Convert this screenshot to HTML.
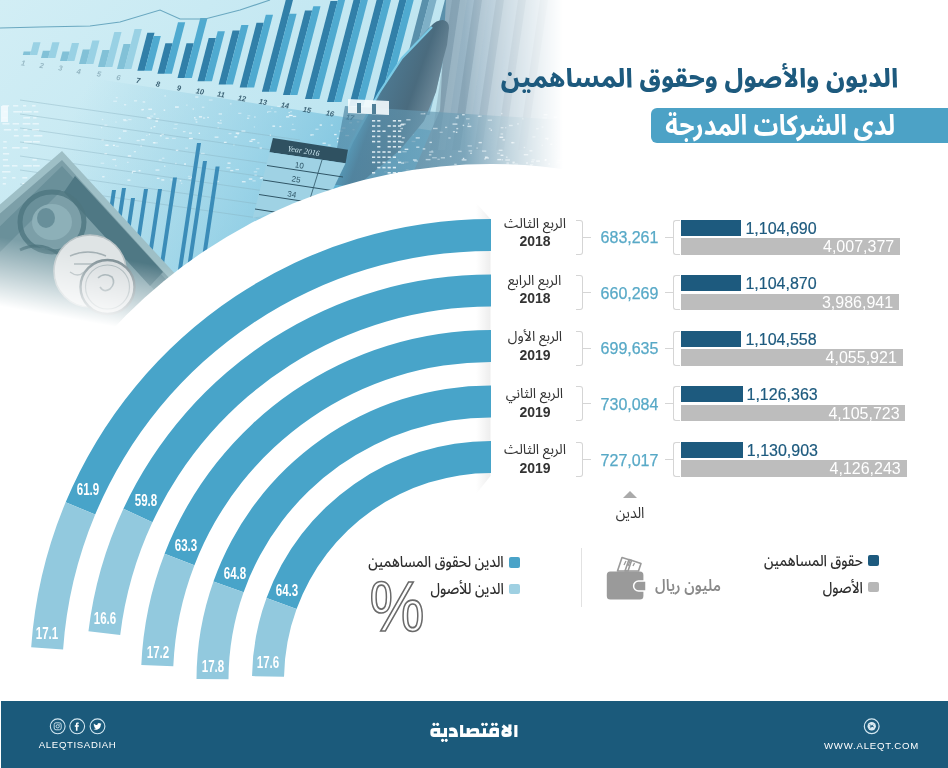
<!DOCTYPE html>
<html lang="ar"><head><meta charset="utf-8"><title>الديون والأصول وحقوق المساهمين</title>
<style>
*{box-sizing:border-box}
html,body{margin:0;padding:0}
body{width:948px;height:768px;overflow:hidden;background:#fff;position:relative;font-family:"Liberation Sans",sans-serif}
.ar{font-family:"Noto Sans Arabic","DejaVu Sans",sans-serif;direction:rtl;white-space:nowrap}
.a{position:absolute}
.pl{position:absolute;width:40px;height:20px;line-height:20px;text-align:center;color:#fff;font-weight:bold;font-size:16px;transform:scaleX(0.72)}
.title{right:50px;top:58.5px;font-size:26px;font-weight:800;transform-origin:100% 50%;transform:scaleX(0.976);color:#1d5a7e;line-height:40px}
.subbox{left:651px;top:108.3px;width:310px;height:34.4px;background:#4ca2c6;border-radius:6px}
.subt{right:52.5px;top:107.3px;font-size:28px;font-weight:700;transform-origin:100% 50%;transform:scaleX(0.88);color:#fff;line-height:40px}
.q{left:474.5px;width:120px;text-align:center;font-size:14px;color:#333;line-height:20px}
.yr{left:515px;width:40px;text-align:center;font-size:14px;font-weight:bold;color:#333;line-height:16px}
.brR{left:576px;width:7px;height:35px;border:1.3px solid #d5d5d5;border-left:none;border-radius:0 3px 3px 0}
.brL{left:673px;width:7px;height:35px;border:1.3px solid #d5d5d5;border-right:none;border-radius:3px 0 0 3px}
.tick{width:8px;height:1.3px;background:#d5d5d5}
.debt{left:595.5px;width:68px;text-align:center;font-size:16px;color:#58a9c7;line-height:16px;-webkit-text-stroke:0.25px #58a9c7}
.dbar{left:681px;height:16px;background:#1d5a7e}
.eqn{font-size:16px;color:#1d5a7e;line-height:16px;white-space:nowrap;margin-left:-1px;-webkit-text-stroke:0.2px #1d5a7e}
.gbar{left:681px;height:16.5px;background:#bdbdbd;text-align:right}
.gbar span{font-size:16px;color:#fff;line-height:17.5px;margin-right:5.8px;display:inline-block}
.tri{left:622.5px;top:491px;width:0;height:0;border-left:7.4px solid transparent;border-right:7.4px solid transparent;border-bottom:7.6px solid #aaa}
.dlab{left:599.5px;width:60px;text-align:center;top:503.3px;font-size:15.5px;transform:scaleX(0.9);color:#333;line-height:20px}
.sq{width:11px;height:10.5px;border-radius:2px}
.lg{font-size:15.5px;font-weight:500;color:#2e2e2e;line-height:24px;transform-origin:100% 50%;transform:scaleX(0.875)}
.vline{left:580.5px;top:548px;width:1.4px;height:59px;background:#e2e2e2}
.pct{left:360.5px;top:562px;width:72px;text-align:center;font-size:71px;line-height:90px;color:transparent;-webkit-text-stroke:1.7px #6a6a6a;transform:scaleX(0.87)}
.foot{left:1px;top:700.5px;width:947px;height:68px;background:#1b5a7b}
.logo{left:400px;width:148px;text-align:center;top:712px;font-family:"Changa","Noto Sans Arabic","DejaVu Sans",sans-serif;font-size:19px;font-weight:800;color:#fff;line-height:40px}
.fl{left:38.8px;top:739.3px;font-size:9.6px;letter-spacing:0.65px;color:#fff;line-height:12px}
.fr{left:824px;top:739.5px;font-size:9.6px;letter-spacing:0.8px;color:#fff;line-height:12px}
</style></head><body>
<svg class="a" style="left:0;top:0" width="948" height="768" viewBox="0 0 948 768">
<defs>
 <linearGradient id="bg" x1="0" y1="0" x2="1" y2="0.35">
  <stop offset="0" stop-color="#d2eef5"/><stop offset="0.4" stop-color="#c0e6f1"/><stop offset="1" stop-color="#a9d5e4"/>
 </linearGradient>
 <linearGradient id="bg2" x1="100" y1="60" x2="380" y2="200" gradientUnits="userSpaceOnUse">
  <stop offset="0" stop-color="#8fcbe0" stop-opacity="0"/><stop offset="0.55" stop-color="#86c9e2" stop-opacity="0.6"/><stop offset="1" stop-color="#6fbcdb" stop-opacity="0.95"/>
 </linearGradient>
 <linearGradient id="shad" x1="0" y1="0" x2="1" y2="0">
  <stop offset="0" stop-color="#7d9cad"/><stop offset="0.3" stop-color="#9ebacb"/><stop offset="1" stop-color="#b8d2de"/>
 </linearGradient>
 <linearGradient id="dig" x1="0" y1="0" x2="1" y2="0">
  <stop offset="0" stop-color="#4d84a1"/><stop offset="0.4" stop-color="#6f9fb6"/><stop offset="1" stop-color="#a4bfcb"/>
 </linearGradient>
 <linearGradient id="pen" x1="372" y1="88" x2="440" y2="112" gradientUnits="userSpaceOnUse">
  <stop offset="0" stop-color="#5fb2d2"/><stop offset="0.15" stop-color="#4d7890"/><stop offset="0.55" stop-color="#4a6b7e"/><stop offset="1" stop-color="#7b95a4"/>
 </linearGradient>
 <linearGradient id="fadeR" x1="0" y1="0" x2="948" y2="0" gradientUnits="userSpaceOnUse">
  <stop offset="0.49" stop-color="#fff"/><stop offset="0.538" stop-color="#808080"/><stop offset="0.594" stop-color="#000"/>
 </linearGradient>
 <linearGradient id="fadeB" x1="100" y1="255" x2="88" y2="322" gradientUnits="userSpaceOnUse">
  <stop offset="0" stop-color="#fff"/><stop offset="1" stop-color="#000"/>
 </linearGradient>
 <mask id="pmR" maskUnits="userSpaceOnUse" x="0" y="0" width="948" height="340">
  <rect x="0" y="0" width="948" height="340" fill="url(#fadeR)"/>
 </mask>
 <mask id="pmB" maskUnits="userSpaceOnUse" x="0" y="0" width="948" height="340">
  <rect x="0" y="0" width="948" height="340" fill="url(#fadeB)"/>
 </mask>
</defs>
<g mask="url(#pmR)"><g mask="url(#pmB)">
<rect x="0" y="0" width="948" height="340" fill="url(#bg)"/>
<polygon points="0,64 480,138 640,150 640,340 0,340" fill="url(#bg2)"/>
<line x1="20" y1="100" x2="300" y2="140" stroke="#86aebf" stroke-opacity="0.5" stroke-width="0.8"/>
<line x1="20" y1="114" x2="300" y2="154" stroke="#86aebf" stroke-opacity="0.5" stroke-width="0.8"/>
<line x1="20" y1="128" x2="300" y2="168" stroke="#86aebf" stroke-opacity="0.5" stroke-width="0.8"/>
<line x1="20" y1="142" x2="300" y2="182" stroke="#86aebf" stroke-opacity="0.5" stroke-width="0.8"/>
<line x1="20" y1="156" x2="300" y2="196" stroke="#86aebf" stroke-opacity="0.5" stroke-width="0.8"/>
<line x1="20" y1="170" x2="300" y2="210" stroke="#86aebf" stroke-opacity="0.5" stroke-width="0.8"/>
<line x1="20" y1="184" x2="300" y2="224" stroke="#86aebf" stroke-opacity="0.5" stroke-width="0.8"/>
<rect x="2.3" y="105.0" width="6.9" height="1.6" fill="#f2fbfd" fill-opacity="0.7"/>
<rect x="13.1" y="105.0" width="5.2" height="1.6" fill="#f2fbfd" fill-opacity="0.7"/>
<rect x="23.0" y="105.0" width="3.2" height="1.6" fill="#f2fbfd" fill-opacity="0.7"/>
<rect x="32.1" y="105.0" width="3.5" height="1.6" fill="#f2fbfd" fill-opacity="0.7"/>
<rect x="3.7" y="111.0" width="3.7" height="1.6" fill="#f2fbfd" fill-opacity="0.7"/>
<rect x="13.3" y="111.0" width="8.7" height="1.6" fill="#f2fbfd" fill-opacity="0.7"/>
<rect x="22.8" y="111.0" width="8.9" height="1.6" fill="#f2fbfd" fill-opacity="0.7"/>
<rect x="33.7" y="111.0" width="4.7" height="1.6" fill="#f2fbfd" fill-opacity="0.7"/>
<rect x="2.2" y="117.0" width="4.9" height="1.6" fill="#f2fbfd" fill-opacity="0.7"/>
<rect x="23.2" y="117.0" width="6.8" height="1.6" fill="#f2fbfd" fill-opacity="0.7"/>
<rect x="33.1" y="117.0" width="3.4" height="1.6" fill="#f2fbfd" fill-opacity="0.7"/>
<rect x="2.4" y="123.0" width="7.1" height="1.6" fill="#f2fbfd" fill-opacity="0.7"/>
<rect x="12.6" y="123.0" width="6.5" height="1.6" fill="#f2fbfd" fill-opacity="0.7"/>
<rect x="22.6" y="123.0" width="7.8" height="1.6" fill="#f2fbfd" fill-opacity="0.7"/>
<rect x="32.5" y="123.0" width="6.4" height="1.6" fill="#f2fbfd" fill-opacity="0.7"/>
<rect x="3.8" y="129.0" width="7.4" height="1.6" fill="#f2fbfd" fill-opacity="0.7"/>
<rect x="14.0" y="129.0" width="3.7" height="1.6" fill="#f2fbfd" fill-opacity="0.7"/>
<rect x="23.5" y="129.0" width="3.9" height="1.6" fill="#f2fbfd" fill-opacity="0.7"/>
<rect x="32.1" y="129.0" width="7.0" height="1.6" fill="#f2fbfd" fill-opacity="0.7"/>
<rect x="13.8" y="135.0" width="4.9" height="1.6" fill="#f2fbfd" fill-opacity="0.7"/>
<rect x="23.2" y="135.0" width="6.5" height="1.6" fill="#f2fbfd" fill-opacity="0.7"/>
<rect x="33.7" y="135.0" width="8.7" height="1.6" fill="#f2fbfd" fill-opacity="0.7"/>
<rect x="3.3" y="141.0" width="3.4" height="1.6" fill="#f2fbfd" fill-opacity="0.7"/>
<rect x="24.0" y="141.0" width="7.9" height="1.6" fill="#f2fbfd" fill-opacity="0.7"/>
<rect x="32.8" y="141.0" width="7.0" height="1.6" fill="#f2fbfd" fill-opacity="0.7"/>
<rect x="2.9" y="147.0" width="4.0" height="1.6" fill="#f2fbfd" fill-opacity="0.7"/>
<rect x="12.1" y="147.0" width="7.6" height="1.6" fill="#f2fbfd" fill-opacity="0.7"/>
<rect x="22.5" y="147.0" width="5.3" height="1.6" fill="#f2fbfd" fill-opacity="0.7"/>
<rect x="2.9" y="153.0" width="6.3" height="1.6" fill="#f2fbfd" fill-opacity="0.7"/>
<rect x="2.8" y="159.0" width="5.2" height="1.6" fill="#f2fbfd" fill-opacity="0.7"/>
<rect x="32.4" y="159.0" width="4.4" height="1.6" fill="#f2fbfd" fill-opacity="0.7"/>
<rect x="3.0" y="165.0" width="6.5" height="1.6" fill="#f2fbfd" fill-opacity="0.7"/>
<rect x="12.0" y="165.0" width="5.5" height="1.6" fill="#f2fbfd" fill-opacity="0.7"/>
<rect x="23.1" y="165.0" width="8.7" height="1.6" fill="#f2fbfd" fill-opacity="0.7"/>
<rect x="33.0" y="165.0" width="6.7" height="1.6" fill="#f2fbfd" fill-opacity="0.7"/>
<rect x="2.1" y="171.0" width="8.4" height="1.6" fill="#f2fbfd" fill-opacity="0.7"/>
<rect x="2.8" y="177.0" width="3.6" height="1.6" fill="#f2fbfd" fill-opacity="0.7"/>
<rect x="12.1" y="177.0" width="3.4" height="1.6" fill="#f2fbfd" fill-opacity="0.7"/>
<rect x="22.3" y="177.0" width="5.0" height="1.6" fill="#f2fbfd" fill-opacity="0.7"/>
<rect x="32.0" y="177.0" width="3.9" height="1.6" fill="#f2fbfd" fill-opacity="0.7"/>
<rect x="2.7" y="183.0" width="3.2" height="1.6" fill="#f2fbfd" fill-opacity="0.7"/>
<rect x="22.3" y="183.0" width="4.5" height="1.6" fill="#f2fbfd" fill-opacity="0.7"/>
<rect x="32.7" y="183.0" width="3.7" height="1.6" fill="#f2fbfd" fill-opacity="0.7"/>
<rect x="23.0" y="189.0" width="3.5" height="1.6" fill="#f2fbfd" fill-opacity="0.7"/>
<rect x="32.7" y="189.0" width="4.6" height="1.6" fill="#f2fbfd" fill-opacity="0.7"/>
<rect x="12.0" y="195.0" width="8.7" height="1.6" fill="#f2fbfd" fill-opacity="0.7"/>
<rect x="22.3" y="195.0" width="6.3" height="1.6" fill="#f2fbfd" fill-opacity="0.7"/>
<rect x="33.1" y="195.0" width="8.9" height="1.6" fill="#f2fbfd" fill-opacity="0.7"/>
<rect x="12.5" y="201.0" width="5.2" height="1.6" fill="#f2fbfd" fill-opacity="0.7"/>
<rect x="23.5" y="201.0" width="6.2" height="1.6" fill="#f2fbfd" fill-opacity="0.7"/>
<rect x="2.4" y="207.0" width="7.9" height="1.6" fill="#f2fbfd" fill-opacity="0.7"/>
<rect x="23.0" y="213.0" width="5.1" height="1.6" fill="#f2fbfd" fill-opacity="0.7"/>
<rect x="32.1" y="213.0" width="4.7" height="1.6" fill="#f2fbfd" fill-opacity="0.7"/>
<rect x="3.4" y="219.0" width="8.7" height="1.6" fill="#f2fbfd" fill-opacity="0.7"/>
<rect x="13.9" y="219.0" width="8.9" height="1.6" fill="#f2fbfd" fill-opacity="0.7"/>
<rect x="32.4" y="219.0" width="4.4" height="1.6" fill="#f2fbfd" fill-opacity="0.7"/>
<rect x="2.4" y="225.0" width="6.7" height="1.6" fill="#f2fbfd" fill-opacity="0.7"/>
<rect x="33.3" y="225.0" width="7.8" height="1.6" fill="#f2fbfd" fill-opacity="0.7"/>
<rect x="3.3" y="231.0" width="8.5" height="1.6" fill="#f2fbfd" fill-opacity="0.7"/>
<rect x="32.4" y="231.0" width="7.7" height="1.6" fill="#f2fbfd" fill-opacity="0.7"/>
<rect x="1" y="106" width="7" height="16" fill="#f4fcfe" fill-opacity="0.85"/>
<rect x="226.4" y="167.1" width="3.9" height="1.3" fill="#f4fbfe" fill-opacity="0.55"/>
<rect x="252.5" y="180.2" width="3.2" height="1.3" fill="#f4fbfe" fill-opacity="0.44"/>
<rect x="148.3" y="108.6" width="3.7" height="1.3" fill="#f4fbfe" fill-opacity="0.75"/>
<rect x="155.5" y="169.4" width="3.9" height="1.3" fill="#f4fbfe" fill-opacity="0.68"/>
<rect x="233.2" y="144.4" width="1.4" height="1.3" fill="#f4fbfe" fill-opacity="0.36"/>
<rect x="468.9" y="153.5" width="2.6" height="1.3" fill="#f4fbfe" fill-opacity="0.82"/>
<rect x="264.8" y="173.5" width="3.5" height="1.3" fill="#f4fbfe" fill-opacity="0.46"/>
<rect x="195.7" y="121.4" width="1.7" height="1.3" fill="#f4fbfe" fill-opacity="0.64"/>
<rect x="198.6" y="132.7" width="1.4" height="1.3" fill="#f4fbfe" fill-opacity="0.81"/>
<rect x="234.4" y="136.2" width="2.8" height="1.3" fill="#f4fbfe" fill-opacity="0.80"/>
<rect x="259.8" y="177.6" width="2.5" height="1.3" fill="#f4fbfe" fill-opacity="0.62"/>
<rect x="267.2" y="111.5" width="1.0" height="1.3" fill="#f4fbfe" fill-opacity="0.75"/>
<rect x="165.5" y="137.6" width="3.2" height="1.3" fill="#f4fbfe" fill-opacity="0.63"/>
<rect x="223.9" y="141.7" width="2.7" height="1.3" fill="#f4fbfe" fill-opacity="0.74"/>
<rect x="140.3" y="145.4" width="1.7" height="1.3" fill="#f4fbfe" fill-opacity="0.49"/>
<rect x="393.5" y="140.7" width="2.7" height="1.3" fill="#f4fbfe" fill-opacity="0.73"/>
<rect x="446.7" y="134.9" width="2.8" height="1.3" fill="#f4fbfe" fill-opacity="0.60"/>
<rect x="294.6" y="157.3" width="2.4" height="1.3" fill="#f4fbfe" fill-opacity="0.62"/>
<rect x="281.7" y="179.7" width="3.1" height="1.3" fill="#f4fbfe" fill-opacity="0.79"/>
<rect x="312.6" y="179.9" width="3.5" height="1.3" fill="#f4fbfe" fill-opacity="0.42"/>
<rect x="146.2" y="134.8" width="1.2" height="1.3" fill="#f4fbfe" fill-opacity="0.47"/>
<rect x="127.8" y="155.3" width="3.4" height="1.3" fill="#f4fbfe" fill-opacity="0.80"/>
<rect x="158.7" y="159.5" width="3.0" height="1.3" fill="#f4fbfe" fill-opacity="0.42"/>
<rect x="435.5" y="182.1" width="1.7" height="1.3" fill="#f4fbfe" fill-opacity="0.83"/>
<rect x="251.3" y="138.9" width="4.0" height="1.3" fill="#f4fbfe" fill-opacity="0.77"/>
<rect x="161.4" y="133.8" width="2.5" height="1.3" fill="#f4fbfe" fill-opacity="0.52"/>
<rect x="174.4" y="123.7" width="3.2" height="1.3" fill="#f4fbfe" fill-opacity="0.36"/>
<rect x="310.5" y="134.6" width="1.1" height="1.3" fill="#f4fbfe" fill-opacity="0.52"/>
<rect x="337.1" y="141.1" width="1.2" height="1.3" fill="#f4fbfe" fill-opacity="0.84"/>
<rect x="399.6" y="182.5" width="1.3" height="1.3" fill="#f4fbfe" fill-opacity="0.48"/>
<rect x="115.0" y="165.1" width="1.8" height="1.3" fill="#f4fbfe" fill-opacity="0.41"/>
<rect x="260.5" y="177.0" width="3.5" height="1.3" fill="#f4fbfe" fill-opacity="0.48"/>
<rect x="156.8" y="177.7" width="2.7" height="1.3" fill="#f4fbfe" fill-opacity="0.70"/>
<rect x="134.0" y="100.2" width="3.1" height="1.3" fill="#f4fbfe" fill-opacity="0.56"/>
<rect x="127.5" y="179.5" width="2.9" height="1.3" fill="#f4fbfe" fill-opacity="0.75"/>
<rect x="131.8" y="172.1" width="1.2" height="1.3" fill="#f4fbfe" fill-opacity="0.78"/>
<rect x="272.4" y="125.5" width="2.7" height="1.3" fill="#f4fbfe" fill-opacity="0.81"/>
<rect x="201.8" y="106.6" width="2.6" height="1.3" fill="#f4fbfe" fill-opacity="0.47"/>
<rect x="141.6" y="109.5" width="1.2" height="1.3" fill="#f4fbfe" fill-opacity="0.45"/>
<rect x="218.6" y="122.5" width="3.3" height="1.3" fill="#f4fbfe" fill-opacity="0.49"/>
<rect x="290.0" y="111.0" width="2.0" height="1.3" fill="#f4fbfe" fill-opacity="0.36"/>
<rect x="195.2" y="96.4" width="3.2" height="1.3" fill="#f4fbfe" fill-opacity="0.63"/>
<rect x="172.0" y="137.7" width="3.8" height="1.3" fill="#f4fbfe" fill-opacity="0.40"/>
<rect x="411.2" y="133.9" width="2.5" height="1.3" fill="#f4fbfe" fill-opacity="0.77"/>
<rect x="249.4" y="140.6" width="3.1" height="1.3" fill="#f4fbfe" fill-opacity="0.84"/>
<rect x="230.2" y="169.9" width="3.1" height="1.3" fill="#f4fbfe" fill-opacity="0.67"/>
<rect x="253.8" y="126.3" width="1.2" height="1.3" fill="#f4fbfe" fill-opacity="0.41"/>
<rect x="126.9" y="161.7" width="1.8" height="1.3" fill="#f4fbfe" fill-opacity="0.43"/>
<rect x="132.1" y="170.7" width="3.6" height="1.3" fill="#f4fbfe" fill-opacity="0.69"/>
<rect x="207.1" y="116.8" width="1.9" height="1.3" fill="#f4fbfe" fill-opacity="0.58"/>
<rect x="159.9" y="135.1" width="1.8" height="1.3" fill="#f4fbfe" fill-opacity="0.83"/>
<rect x="469.6" y="144.2" width="1.7" height="1.3" fill="#f4fbfe" fill-opacity="0.83"/>
<rect x="217.6" y="127.1" width="1.0" height="1.3" fill="#f4fbfe" fill-opacity="0.54"/>
<rect x="280.4" y="140.2" width="1.6" height="1.3" fill="#f4fbfe" fill-opacity="0.60"/>
<rect x="101.9" y="118.8" width="1.3" height="1.3" fill="#f4fbfe" fill-opacity="0.55"/>
<rect x="115.8" y="97.0" width="1.9" height="1.3" fill="#f4fbfe" fill-opacity="0.47"/>
<rect x="322.5" y="142.6" width="3.3" height="1.3" fill="#f4fbfe" fill-opacity="0.68"/>
<rect x="372.1" y="174.1" width="2.2" height="1.3" fill="#f4fbfe" fill-opacity="0.51"/>
<rect x="375.2" y="152.9" width="1.1" height="1.3" fill="#f4fbfe" fill-opacity="0.77"/>
<rect x="438.9" y="151.5" width="3.2" height="1.3" fill="#f4fbfe" fill-opacity="0.76"/>
<rect x="152.9" y="142.1" width="2.5" height="1.3" fill="#f4fbfe" fill-opacity="0.77"/>
<rect x="405.8" y="169.4" width="2.8" height="1.3" fill="#f4fbfe" fill-opacity="0.80"/>
<rect x="359.5" y="157.4" width="1.7" height="1.3" fill="#f4fbfe" fill-opacity="0.37"/>
<rect x="150.6" y="127.5" width="1.3" height="1.3" fill="#f4fbfe" fill-opacity="0.77"/>
<rect x="312.2" y="151.5" width="2.9" height="1.3" fill="#f4fbfe" fill-opacity="0.69"/>
<rect x="403.1" y="162.3" width="2.5" height="1.3" fill="#f4fbfe" fill-opacity="0.62"/>
<rect x="128.3" y="118.9" width="3.2" height="1.3" fill="#f4fbfe" fill-opacity="0.45"/>
<rect x="381.1" y="182.8" width="2.5" height="1.3" fill="#f4fbfe" fill-opacity="0.54"/>
<rect x="282.0" y="156.5" width="3.3" height="1.3" fill="#f4fbfe" fill-opacity="0.66"/>
<rect x="156.0" y="117.9" width="3.2" height="1.3" fill="#f4fbfe" fill-opacity="0.50"/>
<rect x="123.1" y="119.2" width="3.0" height="1.3" fill="#f4fbfe" fill-opacity="0.70"/>
<rect x="356.8" y="121.2" width="2.5" height="1.3" fill="#f4fbfe" fill-opacity="0.58"/>
<rect x="277.2" y="105.7" width="3.7" height="1.3" fill="#f4fbfe" fill-opacity="0.45"/>
<rect x="471.7" y="179.3" width="1.1" height="1.3" fill="#f4fbfe" fill-opacity="0.58"/>
<rect x="411.6" y="182.1" width="2.3" height="1.3" fill="#f4fbfe" fill-opacity="0.48"/>
<rect x="179.7" y="180.1" width="1.6" height="1.3" fill="#f4fbfe" fill-opacity="0.64"/>
<rect x="153.9" y="142.2" width="3.9" height="1.3" fill="#f4fbfe" fill-opacity="0.42"/>
<rect x="411.7" y="140.8" width="3.7" height="1.3" fill="#f4fbfe" fill-opacity="0.70"/>
<rect x="187.9" y="175.8" width="2.5" height="1.3" fill="#f4fbfe" fill-opacity="0.36"/>
<rect x="101.4" y="139.3" width="2.4" height="1.3" fill="#f4fbfe" fill-opacity="0.50"/>
<rect x="153.5" y="126.0" width="1.9" height="1.3" fill="#f4fbfe" fill-opacity="0.77"/>
<rect x="100.7" y="162.6" width="3.5" height="1.3" fill="#f4fbfe" fill-opacity="0.41"/>
<rect x="452.0" y="159.2" width="3.7" height="1.3" fill="#f4fbfe" fill-opacity="0.49"/>
<rect x="241.4" y="130.4" width="4.0" height="1.3" fill="#f4fbfe" fill-opacity="0.64"/>
<rect x="237.1" y="133.5" width="1.8" height="1.3" fill="#f4fbfe" fill-opacity="0.37"/>
<rect x="138.6" y="170.1" width="1.9" height="1.3" fill="#f4fbfe" fill-opacity="0.82"/>
<rect x="194.7" y="118.9" width="2.5" height="1.3" fill="#f4fbfe" fill-opacity="0.44"/>
<rect x="241.9" y="181.1" width="3.7" height="1.3" fill="#f4fbfe" fill-opacity="0.76"/>
<rect x="339.7" y="177.2" width="3.8" height="1.3" fill="#f4fbfe" fill-opacity="0.62"/>
<rect x="378.3" y="135.6" width="3.3" height="1.3" fill="#f4fbfe" fill-opacity="0.67"/>
<rect x="208.8" y="99.4" width="3.8" height="1.3" fill="#f4fbfe" fill-opacity="0.41"/>
<rect x="279.4" y="125.9" width="1.9" height="1.3" fill="#f4fbfe" fill-opacity="0.72"/>
<rect x="349.3" y="122.1" width="2.7" height="1.3" fill="#f4fbfe" fill-opacity="0.55"/>
<rect x="163.6" y="109.5" width="1.6" height="1.3" fill="#f4fbfe" fill-opacity="0.80"/>
<rect x="288.9" y="114.8" width="3.7" height="1.3" fill="#f4fbfe" fill-opacity="0.85"/>
<rect x="271.0" y="107.6" width="1.6" height="1.3" fill="#f4fbfe" fill-opacity="0.40"/>
<rect x="229.9" y="103.2" width="1.7" height="1.3" fill="#f4fbfe" fill-opacity="0.48"/>
<rect x="316.5" y="174.9" width="3.2" height="1.3" fill="#f4fbfe" fill-opacity="0.56"/>
<rect x="257.3" y="142.2" width="2.1" height="1.3" fill="#f4fbfe" fill-opacity="0.52"/>
<rect x="123.6" y="120.0" width="3.9" height="1.3" fill="#f4fbfe" fill-opacity="0.41"/>
<rect x="291.3" y="151.7" width="3.6" height="1.3" fill="#f4fbfe" fill-opacity="0.46"/>
<rect x="203.0" y="117.4" width="2.2" height="1.3" fill="#f4fbfe" fill-opacity="0.57"/>
<rect x="462.5" y="171.4" width="3.6" height="1.3" fill="#f4fbfe" fill-opacity="0.36"/>
<rect x="112.3" y="158.9" width="3.7" height="1.3" fill="#f4fbfe" fill-opacity="0.59"/>
<rect x="248.8" y="178.4" width="3.5" height="1.3" fill="#f4fbfe" fill-opacity="0.78"/>
<rect x="141.4" y="108.9" width="2.6" height="1.3" fill="#f4fbfe" fill-opacity="0.69"/>
<rect x="457.8" y="160.0" width="2.9" height="1.3" fill="#f4fbfe" fill-opacity="0.73"/>
<rect x="273.8" y="144.6" width="1.1" height="1.3" fill="#f4fbfe" fill-opacity="0.74"/>
<rect x="188.4" y="177.8" width="2.9" height="1.3" fill="#f4fbfe" fill-opacity="0.50"/>
<rect x="148.6" y="117.7" width="2.9" height="1.3" fill="#f4fbfe" fill-opacity="0.70"/>
<rect x="142.6" y="101.3" width="2.6" height="1.3" fill="#f4fbfe" fill-opacity="0.64"/>
<rect x="247.5" y="115.1" width="2.8" height="1.3" fill="#f4fbfe" fill-opacity="0.36"/>
<rect x="214.6" y="136.5" width="3.9" height="1.3" fill="#f4fbfe" fill-opacity="0.67"/>
<rect x="435.8" y="137.8" width="1.7" height="1.3" fill="#f4fbfe" fill-opacity="0.47"/>
<rect x="465.0" y="158.4" width="1.9" height="1.3" fill="#f4fbfe" fill-opacity="0.36"/>
<rect x="289.4" y="155.7" width="2.3" height="1.3" fill="#f4fbfe" fill-opacity="0.48"/>
<rect x="353.6" y="178.3" width="1.7" height="1.3" fill="#f4fbfe" fill-opacity="0.37"/>
<rect x="228.5" y="132.9" width="3.0" height="1.3" fill="#f4fbfe" fill-opacity="0.45"/>
<rect x="402.9" y="161.5" width="2.5" height="1.3" fill="#f4fbfe" fill-opacity="0.45"/>
<rect x="184.1" y="163.4" width="1.9" height="1.3" fill="#f4fbfe" fill-opacity="0.83"/>
<rect x="288.4" y="111.9" width="1.7" height="1.3" fill="#f4fbfe" fill-opacity="0.56"/>
<rect x="352.8" y="180.4" width="1.4" height="1.3" fill="#f4fbfe" fill-opacity="0.55"/>
<rect x="180.9" y="182.7" width="1.4" height="1.3" fill="#f4fbfe" fill-opacity="0.38"/>
<rect x="122.9" y="130.4" width="3.7" height="1.3" fill="#f4fbfe" fill-opacity="0.79"/>
<rect x="378.4" y="184.8" width="3.8" height="1.3" fill="#f4fbfe" fill-opacity="0.51"/>
<rect x="170.5" y="179.2" width="3.2" height="1.3" fill="#f4fbfe" fill-opacity="0.37"/>
<rect x="352.5" y="129.1" width="2.1" height="1.3" fill="#f4fbfe" fill-opacity="0.52"/>
<rect x="164.3" y="95.3" width="1.8" height="1.3" fill="#f4fbfe" fill-opacity="0.53"/>
<rect x="235.5" y="168.9" width="3.5" height="1.3" fill="#f4fbfe" fill-opacity="0.57"/>
<rect x="118.7" y="137.6" width="2.1" height="1.3" fill="#f4fbfe" fill-opacity="0.81"/>
<rect x="173.3" y="127.8" width="3.7" height="1.3" fill="#f4fbfe" fill-opacity="0.37"/>
<rect x="256.1" y="168.1" width="3.3" height="1.3" fill="#f4fbfe" fill-opacity="0.37"/>
<rect x="113.2" y="100.6" width="3.8" height="1.3" fill="#f4fbfe" fill-opacity="0.48"/>
<rect x="384.0" y="175.9" width="2.0" height="1.3" fill="#f4fbfe" fill-opacity="0.49"/>
<rect x="463.9" y="150.5" width="1.8" height="1.3" fill="#f4fbfe" fill-opacity="0.71"/>
<rect x="220.3" y="119.8" width="1.0" height="1.3" fill="#f4fbfe" fill-opacity="0.73"/>
<rect x="448.3" y="152.1" width="3.8" height="1.3" fill="#f4fbfe" fill-opacity="0.36"/>
<rect x="188.9" y="137.8" width="3.9" height="1.3" fill="#f4fbfe" fill-opacity="0.83"/>
<rect x="246.9" y="117.6" width="2.3" height="1.3" fill="#f4fbfe" fill-opacity="0.60"/>
<rect x="405.0" y="161.5" width="3.5" height="1.3" fill="#f4fbfe" fill-opacity="0.74"/>
<rect x="330.8" y="124.5" width="2.0" height="1.3" fill="#f4fbfe" fill-opacity="0.53"/>
<rect x="175.0" y="162.8" width="1.7" height="1.3" fill="#f4fbfe" fill-opacity="0.38"/>
<rect x="112.9" y="144.7" width="2.0" height="1.3" fill="#f4fbfe" fill-opacity="0.84"/>
<rect x="435.7" y="183.9" width="1.8" height="1.3" fill="#f4fbfe" fill-opacity="0.39"/>
<rect x="136.6" y="139.9" width="3.1" height="1.3" fill="#f4fbfe" fill-opacity="0.57"/>
<rect x="189.0" y="132.5" width="2.9" height="1.3" fill="#f4fbfe" fill-opacity="0.69"/>
<rect x="384.2" y="171.2" width="3.0" height="1.3" fill="#f4fbfe" fill-opacity="0.41"/>
<rect x="315.4" y="128.6" width="3.2" height="1.3" fill="#f4fbfe" fill-opacity="0.45"/>
<rect x="194.0" y="117.1" width="1.5" height="1.3" fill="#f4fbfe" fill-opacity="0.79"/>
<rect x="319.7" y="124.4" width="2.2" height="1.3" fill="#f4fbfe" fill-opacity="0.85"/>
<rect x="292.8" y="115.8" width="3.4" height="1.3" fill="#f4fbfe" fill-opacity="0.68"/>
<rect x="280.4" y="168.7" width="3.5" height="1.3" fill="#f4fbfe" fill-opacity="0.81"/>
<rect x="115.3" y="121.4" width="1.4" height="1.3" fill="#f4fbfe" fill-opacity="0.44"/>
<rect x="469.7" y="147.5" width="3.8" height="1.3" fill="#f4fbfe" fill-opacity="0.54"/>
<rect x="429.1" y="135.4" width="1.8" height="1.3" fill="#f4fbfe" fill-opacity="0.74"/>
<rect x="326.5" y="150.8" width="1.7" height="1.3" fill="#f4fbfe" fill-opacity="0.53"/>
<rect x="153.7" y="113.4" width="1.8" height="1.3" fill="#f4fbfe" fill-opacity="0.65"/>
<rect x="104.3" y="124.5" width="3.0" height="1.3" fill="#f4fbfe" fill-opacity="0.44"/>
<rect x="218.6" y="113.3" width="3.4" height="1.3" fill="#f4fbfe" fill-opacity="0.62"/>
<rect x="124.0" y="104.1" width="2.2" height="1.3" fill="#f4fbfe" fill-opacity="0.63"/>
<rect x="162.2" y="157.6" width="2.2" height="1.3" fill="#f4fbfe" fill-opacity="0.49"/>
<rect x="216.9" y="180.8" width="1.9" height="1.3" fill="#f4fbfe" fill-opacity="0.63"/>
<rect x="235.7" y="132.5" width="3.6" height="1.3" fill="#f4fbfe" fill-opacity="0.85"/>
<rect x="238.2" y="112.7" width="3.2" height="1.3" fill="#f4fbfe" fill-opacity="0.45"/>
<rect x="102.2" y="176.1" width="2.3" height="1.3" fill="#f4fbfe" fill-opacity="0.76"/>
<rect x="254.4" y="174.5" width="2.4" height="1.3" fill="#f4fbfe" fill-opacity="0.43"/>
<rect x="105.6" y="144.6" width="2.9" height="1.3" fill="#f4fbfe" fill-opacity="0.80"/>
<rect x="133.8" y="151.0" width="2.1" height="1.3" fill="#f4fbfe" fill-opacity="0.60"/>
<rect x="155.4" y="120.5" width="2.6" height="1.3" fill="#f4fbfe" fill-opacity="0.81"/>
<rect x="141.3" y="139.1" width="3.4" height="1.3" fill="#f4fbfe" fill-opacity="0.83"/>
<rect x="175.0" y="106.4" width="3.8" height="1.3" fill="#f4fbfe" fill-opacity="0.84"/>
<rect x="443.6" y="150.8" width="3.5" height="1.3" fill="#f4fbfe" fill-opacity="0.43"/>
<rect x="253.7" y="171.2" width="3.5" height="1.3" fill="#f4fbfe" fill-opacity="0.44"/>
<rect x="182.9" y="131.0" width="2.6" height="1.3" fill="#f4fbfe" fill-opacity="0.54"/>
<rect x="146.8" y="117.2" width="3.2" height="1.3" fill="#f4fbfe" fill-opacity="0.80"/>
<rect x="115.6" y="145.6" width="3.3" height="1.3" fill="#f4fbfe" fill-opacity="0.37"/>
<rect x="327.8" y="144.5" width="2.9" height="1.3" fill="#f4fbfe" fill-opacity="0.50"/>
<rect x="259.6" y="147.4" width="2.3" height="1.3" fill="#f4fbfe" fill-opacity="0.68"/>
<rect x="269.8" y="134.5" width="1.1" height="1.3" fill="#f4fbfe" fill-opacity="0.66"/>
<rect x="286.0" y="116.2" width="3.3" height="1.3" fill="#f4fbfe" fill-opacity="0.74"/>
<rect x="274.1" y="111.2" width="2.4" height="1.3" fill="#f4fbfe" fill-opacity="0.40"/>
<rect x="148.8" y="133.8" width="1.3" height="1.3" fill="#f4fbfe" fill-opacity="0.57"/>
<rect x="378.7" y="165.0" width="2.5" height="1.3" fill="#f4fbfe" fill-opacity="0.38"/>
<rect x="291.5" y="129.0" width="3.9" height="1.3" fill="#f4fbfe" fill-opacity="0.42"/>
<rect x="425.7" y="184.7" width="3.2" height="1.3" fill="#f4fbfe" fill-opacity="0.76"/>
<rect x="173.6" y="183.4" width="2.5" height="1.3" fill="#f4fbfe" fill-opacity="0.83"/>
<rect x="399.6" y="178.8" width="1.2" height="1.3" fill="#f4fbfe" fill-opacity="0.53"/>
<rect x="290.8" y="177.8" width="1.6" height="1.3" fill="#f4fbfe" fill-opacity="0.48"/>
<rect x="292.3" y="123.7" width="1.1" height="1.3" fill="#f4fbfe" fill-opacity="0.44"/>
<rect x="161.3" y="179.3" width="3.0" height="1.3" fill="#f4fbfe" fill-opacity="0.80"/>
<rect x="164.1" y="165.6" width="1.3" height="1.3" fill="#f4fbfe" fill-opacity="0.62"/>
<rect x="341.8" y="127.4" width="3.6" height="1.3" fill="#f4fbfe" fill-opacity="0.63"/>
<rect x="320.4" y="174.4" width="1.3" height="1.3" fill="#f4fbfe" fill-opacity="0.85"/>
<rect x="339.3" y="130.5" width="3.4" height="1.3" fill="#f4fbfe" fill-opacity="0.48"/>
<rect x="476.4" y="147.0" width="2.1" height="1.3" fill="#f4fbfe" fill-opacity="0.73"/>
<rect x="268.1" y="110.9" width="3.2" height="1.3" fill="#f4fbfe" fill-opacity="0.37"/>
<rect x="342.9" y="183.6" width="2.8" height="1.3" fill="#f4fbfe" fill-opacity="0.68"/>
<rect x="218.8" y="95.2" width="1.1" height="1.3" fill="#f4fbfe" fill-opacity="0.42"/>
<rect x="334.1" y="133.9" width="2.5" height="1.3" fill="#f4fbfe" fill-opacity="0.80"/>
<rect x="150.2" y="115.5" width="3.0" height="1.3" fill="#f4fbfe" fill-opacity="0.36"/>
<rect x="101.0" y="126.9" width="1.3" height="1.3" fill="#f4fbfe" fill-opacity="0.53"/>
<rect x="185.2" y="147.5" width="2.8" height="1.3" fill="#f4fbfe" fill-opacity="0.45"/>
<rect x="337.1" y="137.7" width="1.4" height="1.3" fill="#f4fbfe" fill-opacity="0.82"/>
<rect x="192.6" y="108.4" width="1.3" height="1.3" fill="#f4fbfe" fill-opacity="0.67"/>
<rect x="431.1" y="165.4" width="2.2" height="1.3" fill="#f4fbfe" fill-opacity="0.48"/>
<rect x="104.4" y="153.0" width="2.7" height="1.3" fill="#f4fbfe" fill-opacity="0.53"/>
<rect x="345.3" y="134.9" width="3.8" height="1.3" fill="#f4fbfe" fill-opacity="0.72"/>
<rect x="194.4" y="176.3" width="1.1" height="1.3" fill="#f4fbfe" fill-opacity="0.62"/>
<rect x="254.3" y="116.4" width="1.2" height="1.3" fill="#f4fbfe" fill-opacity="0.74"/>
<rect x="104.7" y="144.6" width="3.8" height="1.3" fill="#f4fbfe" fill-opacity="0.42"/>
<rect x="175.8" y="149.7" width="2.5" height="1.3" fill="#f4fbfe" fill-opacity="0.67"/>
<rect x="217.6" y="122.0" width="1.1" height="1.3" fill="#f4fbfe" fill-opacity="0.79"/>
<rect x="397.5" y="159.4" width="1.0" height="1.3" fill="#f4fbfe" fill-opacity="0.77"/>
<rect x="383.2" y="136.9" width="3.2" height="1.3" fill="#f4fbfe" fill-opacity="0.58"/>
<rect x="185.9" y="104.5" width="1.7" height="1.3" fill="#f4fbfe" fill-opacity="0.37"/>
<rect x="227.5" y="162.5" width="3.1" height="1.3" fill="#f4fbfe" fill-opacity="0.77"/>
<rect x="310.4" y="134.2" width="3.4" height="1.3" fill="#f4fbfe" fill-opacity="0.61"/>
<rect x="200.8" y="152.8" width="3.9" height="1.3" fill="#f4fbfe" fill-opacity="0.46"/>
<rect x="198.9" y="116.2" width="3.2" height="1.3" fill="#f4fbfe" fill-opacity="0.82"/>
<rect x="383.5" y="124.4" width="3.6" height="1.3" fill="#f4fbfe" fill-opacity="0.51"/>
<rect x="190.9" y="176.7" width="2.9" height="1.3" fill="#f4fbfe" fill-opacity="0.70"/>
<rect x="352.8" y="183.1" width="2.4" height="1.3" fill="#f4fbfe" fill-opacity="0.77"/>
<rect x="365.1" y="172.2" width="2.3" height="1.3" fill="#f4fbfe" fill-opacity="0.71"/>
<polygon points="22.8,55.0 30.0,55.0 30.9,51.4 23.7,51.4" fill="#6fb6d0" fill-opacity="0.8"/>
<polygon points="30.0,55.0 37.2,55.0 40.5,42.3 33.3,42.3" fill="#8ccbe0" fill-opacity="0.8"/>
<polygon points="41.0,58.0 48.2,58.0 50.1,50.8 42.9,50.8" fill="#6fb6d0" fill-opacity="0.8"/>
<polygon points="48.2,58.0 55.4,58.0 59.5,42.3 52.3,42.3" fill="#8ccbe0" fill-opacity="0.8"/>
<polygon points="60.0,61.0 67.2,61.0 69.7,51.4 62.5,51.4" fill="#6fb6d0" fill-opacity="0.8"/>
<polygon points="67.2,61.0 74.4,61.0 79.1,43.0 71.9,43.0" fill="#8ccbe0" fill-opacity="0.8"/>
<polygon points="79.0,64.0 86.2,64.0 90.0,49.5 82.8,49.5" fill="#6fb6d0" fill-opacity="0.8"/>
<polygon points="86.2,64.0 93.4,64.0 99.5,40.4 92.3,40.4" fill="#8ccbe0" fill-opacity="0.8"/>
<polygon points="98.0,67.0 105.2,67.0 109.6,50.0 102.4,50.0" fill="#6fb6d0" fill-opacity="0.8"/>
<polygon points="105.2,67.0 112.4,67.0 121.5,32.0 114.3,32.0" fill="#8ccbe0" fill-opacity="0.8"/>
<polygon points="117.0,69.0 124.2,69.0 130.7,44.0 123.5,44.0" fill="#6fb6d0" fill-opacity="0.8"/>
<polygon points="124.2,69.0 131.4,69.0 141.8,29.0 134.6,29.0" fill="#8ccbe0" fill-opacity="0.8"/>
<polygon points="137.4,70.7 144.6,70.7 154.5,32.7 147.3,32.7" fill="#317fa8" fill-opacity="1.0"/>
<polygon points="144.6,70.7 151.8,70.7 160.8,35.9 153.6,35.9" fill="#4faad0" fill-opacity="1.0"/>
<polygon points="157.4,73.8 164.6,73.8 172.6,43.2 165.4,43.2" fill="#317fa8" fill-opacity="1.0"/>
<polygon points="164.6,73.8 171.8,73.8 185.2,22.2 178.0,22.2" fill="#4faad0" fill-opacity="1.0"/>
<polygon points="177.5,78.0 184.7,78.0 193.7,43.2 186.5,43.2" fill="#317fa8" fill-opacity="1.0"/>
<polygon points="184.7,78.0 191.9,78.0 207.5,17.9 200.3,17.9" fill="#4faad0" fill-opacity="1.0"/>
<polygon points="197.5,81.2 204.7,81.2 215.9,38.0 208.7,38.0" fill="#317fa8" fill-opacity="1.0"/>
<polygon points="204.7,81.2 211.9,81.2 224.9,31.2 217.7,31.2" fill="#4faad0" fill-opacity="1.0"/>
<polygon points="218.6,84.4 225.8,84.4 239.8,30.6 232.6,30.6" fill="#317fa8" fill-opacity="1.0"/>
<polygon points="225.8,84.4 233.0,84.4 248.5,24.9 241.3,24.9" fill="#4faad0" fill-opacity="1.0"/>
<polygon points="239.7,87.5 246.9,87.5 263.7,22.8 256.5,22.8" fill="#317fa8" fill-opacity="1.0"/>
<polygon points="246.9,87.5 254.1,87.5 273.0,14.8 265.8,14.8" fill="#4faad0" fill-opacity="1.0"/>
<polygon points="261.9,91.8 269.1,91.8 293.5,-2.0 286.3,-2.0" fill="#317fa8" fill-opacity="1.0"/>
<polygon points="269.1,91.8 276.3,91.8 296.6,13.7 289.4,13.7" fill="#4faad0" fill-opacity="1.0"/>
<polygon points="283.0,95.0 290.2,95.0 312.2,10.5 305.0,10.5" fill="#317fa8" fill-opacity="1.0"/>
<polygon points="290.2,95.0 297.4,95.0 320.5,6.3 313.3,6.3" fill="#4faad0" fill-opacity="1.0"/>
<polygon points="305.0,99.0 312.2,99.0 337.7,1.0 330.5,1.0" fill="#317fa8" fill-opacity="1.0"/>
<polygon points="312.2,99.0 319.4,99.0 346.4,-5.0 339.2,-5.0" fill="#4faad0" fill-opacity="1.0"/>
<polygon points="327.0,102.0 334.2,102.0 362.0,-5.0 354.8,-5.0" fill="#317fa8" fill-opacity="1.0"/>
<polygon points="334.2,102.0 341.4,102.0 369.2,-5.0 362.0,-5.0" fill="#4faad0" fill-opacity="1.0"/>
<polygon points="349.0,106.0 356.2,106.0 385.1,-5.0 377.9,-5.0" fill="#317fa8" fill-opacity="1.0"/>
<polygon points="356.2,106.0 363.4,106.0 392.3,-5.0 385.1,-5.0" fill="#4faad0" fill-opacity="1.0"/>
<polygon points="371.0,109.0 378.2,109.0 407.8,-5.0 400.6,-5.0" fill="#317fa8" fill-opacity="1.0"/>
<polygon points="378.2,109.0 385.4,109.0 415.0,-5.0 407.8,-5.0" fill="#4faad0" fill-opacity="1.0"/>
<polygon points="393.0,112.0 400.2,112.0 430.6,-5.0 423.4,-5.0" fill="#4f86a3" fill-opacity="0.9"/>
<polygon points="400.2,112.0 407.4,112.0 437.8,-5.0 430.6,-5.0" fill="#77aac2" fill-opacity="0.9"/>
<polygon points="415.0,115.0 422.2,115.0 453.4,-5.0 446.2,-5.0" fill="#4f86a3" fill-opacity="0.9"/>
<polygon points="422.2,115.0 429.4,115.0 460.6,-5.0 453.4,-5.0" fill="#77aac2" fill-opacity="0.9"/>
<text x="23.4" y="65.5" font-family="Liberation Sans" font-size="7.5" font-style="italic" font-weight="bold" fill="#2f5569" fill-opacity="0.35" text-anchor="middle" transform="rotate(9 23.4 62.5)">1</text>
<text x="41.7" y="68.0" font-family="Liberation Sans" font-size="7.5" font-style="italic" font-weight="bold" fill="#2f5569" fill-opacity="0.35" text-anchor="middle" transform="rotate(9 41.7 65.0)">2</text>
<text x="60.5" y="70.7" font-family="Liberation Sans" font-size="7.5" font-style="italic" font-weight="bold" fill="#2f5569" fill-opacity="0.35" text-anchor="middle" transform="rotate(9 60.5 67.7)">3</text>
<text x="78.8" y="74.0" font-family="Liberation Sans" font-size="7.5" font-style="italic" font-weight="bold" fill="#2f5569" fill-opacity="0.35" text-anchor="middle" transform="rotate(9 78.8 71.0)">4</text>
<text x="99.0" y="76.6" font-family="Liberation Sans" font-size="7.5" font-style="italic" font-weight="bold" fill="#2f5569" fill-opacity="0.35" text-anchor="middle" transform="rotate(9 99.0 73.6)">5</text>
<text x="118.5" y="80.0" font-family="Liberation Sans" font-size="7.5" font-style="italic" font-weight="bold" fill="#2f5569" fill-opacity="0.35" text-anchor="middle" transform="rotate(9 118.5 77.0)">6</text>
<text x="138.4" y="83.2" font-family="Liberation Sans" font-size="7.5" font-style="italic" font-weight="bold" fill="#2f5569" fill-opacity="0.9" text-anchor="middle" transform="rotate(9 138.4 80.2)">7</text>
<text x="158.0" y="86.5" font-family="Liberation Sans" font-size="7.5" font-style="italic" font-weight="bold" fill="#2f5569" fill-opacity="0.9" text-anchor="middle" transform="rotate(9 158.0 83.5)">8</text>
<text x="179.0" y="90.5" font-family="Liberation Sans" font-size="7.5" font-style="italic" font-weight="bold" fill="#2f5569" fill-opacity="0.9" text-anchor="middle" transform="rotate(9 179.0 87.5)">9</text>
<text x="200.0" y="94.0" font-family="Liberation Sans" font-size="7.5" font-style="italic" font-weight="bold" fill="#2f5569" fill-opacity="0.9" text-anchor="middle" transform="rotate(9 200.0 91.0)">10</text>
<text x="221.0" y="97.0" font-family="Liberation Sans" font-size="7.5" font-style="italic" font-weight="bold" fill="#2f5569" fill-opacity="0.9" text-anchor="middle" transform="rotate(9 221.0 94.0)">11</text>
<text x="242.0" y="101.0" font-family="Liberation Sans" font-size="7.5" font-style="italic" font-weight="bold" fill="#2f5569" fill-opacity="0.9" text-anchor="middle" transform="rotate(9 242.0 98.0)">12</text>
<text x="263.0" y="104.5" font-family="Liberation Sans" font-size="7.5" font-style="italic" font-weight="bold" fill="#2f5569" fill-opacity="0.9" text-anchor="middle" transform="rotate(9 263.0 101.5)">13</text>
<text x="285.0" y="108.0" font-family="Liberation Sans" font-size="7.5" font-style="italic" font-weight="bold" fill="#2f5569" fill-opacity="0.9" text-anchor="middle" transform="rotate(9 285.0 105.0)">14</text>
<text x="307.0" y="112.5" font-family="Liberation Sans" font-size="7.5" font-style="italic" font-weight="bold" fill="#2f5569" fill-opacity="0.9" text-anchor="middle" transform="rotate(9 307.0 109.5)">15</text>
<text x="330.0" y="116.0" font-family="Liberation Sans" font-size="7.5" font-style="italic" font-weight="bold" fill="#2f5569" fill-opacity="0.9" text-anchor="middle" transform="rotate(9 330.0 113.0)">16</text>
<text x="350.0" y="120.0" font-family="Liberation Sans" font-size="7.5" font-style="italic" font-weight="bold" fill="#2f5569" fill-opacity="0.9" text-anchor="middle" transform="rotate(9 350.0 117.0)">17</text>
<polyline points="0,28 40,27 90,26 120,22 160,10 180,19 205,19 240,10 270,0" fill="none" stroke="#6aa8c0" stroke-width="1.1"/>
<polygon points="446,0 640,0 640,180 410,180 440,110" fill="url(#shad)"/>
<polygon points="452,0 460,0 438,150 430,150" fill="#6f8d9e" fill-opacity="0.35"/>
<polygon points="460,0 467,0 445,150 438,150" fill="#a8c0cb" fill-opacity="0.35"/>
<polygon points="474,0 482,0 460,150 452,150" fill="#6f8d9e" fill-opacity="0.35"/>
<polygon points="482,0 489,0 467,150 460,150" fill="#a8c0cb" fill-opacity="0.35"/>
<polygon points="496,0 504,0 482,150 474,150" fill="#6f8d9e" fill-opacity="0.35"/>
<polygon points="504,0 511,0 489,150 482,150" fill="#a8c0cb" fill-opacity="0.35"/>
<polygon points="518,0 526,0 504,150 496,150" fill="#6f8d9e" fill-opacity="0.35"/>
<polygon points="526,0 533,0 511,150 504,150" fill="#a8c0cb" fill-opacity="0.35"/>
<polygon points="540,0 548,0 526,150 518,150" fill="#6f8d9e" fill-opacity="0.35"/>
<polygon points="548,0 555,0 533,150 526,150" fill="#a8c0cb" fill-opacity="0.35"/>
<path d="M431,26 Q436,20 443,20 Q449,21 449,28 L447,45 L443,60 L436,92 L424,121 L400,150 L370,175 L345,197 L330,192 L352,141 L379,92 L402,57 Z" fill="url(#pen)"/>
<path d="M432,27 L402,58 L379,93 L352,142 L331,190" fill="none" stroke="#7fd3ee" stroke-width="2.2" stroke-opacity="0.9"/>
<polygon points="345,106 640,125 640,185 330,185" fill="url(#dig)" fill-opacity="0.7"/>
<rect x="372.0" y="120.0" width="3.2" height="1.6" fill="#eef8fc" fill-opacity="0.85"/>
<rect x="372.0" y="125.2" width="3.2" height="1.6" fill="#eef8fc" fill-opacity="0.85"/>
<rect x="372.0" y="130.4" width="3.2" height="1.6" fill="#eef8fc" fill-opacity="0.85"/>
<rect x="372.0" y="135.6" width="3.2" height="1.6" fill="#eef8fc" fill-opacity="0.85"/>
<rect x="372.0" y="140.8" width="3.2" height="1.6" fill="#eef8fc" fill-opacity="0.85"/>
<rect x="372.0" y="151.2" width="3.2" height="1.6" fill="#eef8fc" fill-opacity="0.85"/>
<rect x="372.0" y="156.4" width="3.2" height="1.6" fill="#eef8fc" fill-opacity="0.85"/>
<rect x="372.0" y="161.6" width="3.2" height="1.6" fill="#eef8fc" fill-opacity="0.85"/>
<rect x="372.0" y="172.0" width="3.2" height="1.6" fill="#eef8fc" fill-opacity="0.85"/>
<rect x="377.2" y="120.0" width="3.2" height="1.6" fill="#eef8fc" fill-opacity="0.85"/>
<rect x="377.2" y="125.2" width="3.2" height="1.6" fill="#eef8fc" fill-opacity="0.85"/>
<rect x="377.2" y="130.4" width="3.2" height="1.6" fill="#eef8fc" fill-opacity="0.85"/>
<rect x="377.2" y="135.6" width="3.2" height="1.6" fill="#eef8fc" fill-opacity="0.85"/>
<rect x="377.2" y="140.8" width="3.2" height="1.6" fill="#eef8fc" fill-opacity="0.85"/>
<rect x="377.2" y="146.0" width="3.2" height="1.6" fill="#eef8fc" fill-opacity="0.85"/>
<rect x="377.2" y="151.2" width="3.2" height="1.6" fill="#eef8fc" fill-opacity="0.85"/>
<rect x="377.2" y="156.4" width="3.2" height="1.6" fill="#eef8fc" fill-opacity="0.85"/>
<rect x="377.2" y="161.6" width="3.2" height="1.6" fill="#eef8fc" fill-opacity="0.85"/>
<rect x="377.2" y="166.8" width="3.2" height="1.6" fill="#eef8fc" fill-opacity="0.85"/>
<rect x="382.4" y="130.4" width="3.2" height="1.6" fill="#eef8fc" fill-opacity="0.85"/>
<rect x="382.4" y="151.2" width="3.2" height="1.6" fill="#eef8fc" fill-opacity="0.85"/>
<rect x="382.4" y="156.4" width="3.2" height="1.6" fill="#eef8fc" fill-opacity="0.85"/>
<rect x="382.4" y="161.6" width="3.2" height="1.6" fill="#eef8fc" fill-opacity="0.85"/>
<rect x="382.4" y="166.8" width="3.2" height="1.6" fill="#eef8fc" fill-opacity="0.85"/>
<rect x="387.6" y="125.2" width="3.2" height="1.6" fill="#eef8fc" fill-opacity="0.85"/>
<rect x="387.6" y="135.6" width="3.2" height="1.6" fill="#eef8fc" fill-opacity="0.85"/>
<rect x="387.6" y="140.8" width="3.2" height="1.6" fill="#eef8fc" fill-opacity="0.85"/>
<rect x="387.6" y="146.0" width="3.2" height="1.6" fill="#eef8fc" fill-opacity="0.85"/>
<rect x="387.6" y="151.2" width="3.2" height="1.6" fill="#eef8fc" fill-opacity="0.85"/>
<rect x="387.6" y="156.4" width="3.2" height="1.6" fill="#eef8fc" fill-opacity="0.85"/>
<rect x="387.6" y="161.6" width="3.2" height="1.6" fill="#eef8fc" fill-opacity="0.85"/>
<rect x="387.6" y="166.8" width="3.2" height="1.6" fill="#eef8fc" fill-opacity="0.85"/>
<rect x="387.6" y="172.0" width="3.2" height="1.6" fill="#eef8fc" fill-opacity="0.85"/>
<rect x="392.8" y="120.0" width="3.2" height="1.6" fill="#eef8fc" fill-opacity="0.85"/>
<rect x="392.8" y="125.2" width="3.2" height="1.6" fill="#eef8fc" fill-opacity="0.85"/>
<rect x="392.8" y="130.4" width="3.2" height="1.6" fill="#eef8fc" fill-opacity="0.85"/>
<rect x="392.8" y="135.6" width="3.2" height="1.6" fill="#eef8fc" fill-opacity="0.85"/>
<rect x="392.8" y="140.8" width="3.2" height="1.6" fill="#eef8fc" fill-opacity="0.85"/>
<rect x="392.8" y="146.0" width="3.2" height="1.6" fill="#eef8fc" fill-opacity="0.85"/>
<rect x="392.8" y="156.4" width="3.2" height="1.6" fill="#eef8fc" fill-opacity="0.85"/>
<rect x="392.8" y="166.8" width="3.2" height="1.6" fill="#eef8fc" fill-opacity="0.85"/>
<rect x="392.8" y="172.0" width="3.2" height="1.6" fill="#eef8fc" fill-opacity="0.85"/>
<rect x="398.0" y="120.0" width="3.2" height="1.6" fill="#eef8fc" fill-opacity="0.85"/>
<rect x="398.0" y="125.2" width="3.2" height="1.6" fill="#eef8fc" fill-opacity="0.85"/>
<rect x="398.0" y="130.4" width="3.2" height="1.6" fill="#eef8fc" fill-opacity="0.85"/>
<rect x="398.0" y="135.6" width="3.2" height="1.6" fill="#eef8fc" fill-opacity="0.85"/>
<rect x="398.0" y="140.8" width="3.2" height="1.6" fill="#eef8fc" fill-opacity="0.85"/>
<rect x="398.0" y="146.0" width="3.2" height="1.6" fill="#eef8fc" fill-opacity="0.85"/>
<rect x="398.0" y="151.2" width="3.2" height="1.6" fill="#eef8fc" fill-opacity="0.85"/>
<rect x="398.0" y="161.6" width="3.2" height="1.6" fill="#eef8fc" fill-opacity="0.85"/>
<rect x="398.0" y="172.0" width="3.2" height="1.6" fill="#eef8fc" fill-opacity="0.85"/>
<rect x="400.2" y="124.1" width="4.0" height="1.4" fill="#eef8fc" fill-opacity="0.79"/>
<rect x="400.7" y="141.4" width="3.0" height="1.4" fill="#eef8fc" fill-opacity="0.70"/>
<rect x="429.5" y="141.7" width="2.4" height="1.4" fill="#eef8fc" fill-opacity="0.72"/>
<rect x="441.7" y="168.6" width="2.1" height="1.4" fill="#eef8fc" fill-opacity="0.41"/>
<rect x="511.9" y="141.9" width="1.4" height="1.4" fill="#eef8fc" fill-opacity="0.62"/>
<rect x="412.9" y="159.3" width="3.8" height="1.4" fill="#eef8fc" fill-opacity="0.69"/>
<rect x="500.5" y="133.3" width="2.6" height="1.4" fill="#eef8fc" fill-opacity="0.50"/>
<rect x="542.5" y="117.2" width="4.6" height="1.4" fill="#eef8fc" fill-opacity="0.31"/>
<rect x="433.0" y="127.8" width="4.6" height="1.4" fill="#eef8fc" fill-opacity="0.55"/>
<rect x="460.7" y="165.0" width="1.9" height="1.4" fill="#eef8fc" fill-opacity="0.53"/>
<rect x="485.0" y="157.3" width="4.0" height="1.4" fill="#eef8fc" fill-opacity="0.62"/>
<rect x="455.8" y="131.6" width="1.6" height="1.4" fill="#eef8fc" fill-opacity="0.72"/>
<rect x="505.9" y="156.5" width="1.7" height="1.4" fill="#eef8fc" fill-opacity="0.52"/>
<rect x="523.7" y="146.8" width="1.5" height="1.4" fill="#eef8fc" fill-opacity="0.53"/>
<rect x="541.6" y="126.3" width="1.8" height="1.4" fill="#eef8fc" fill-opacity="0.45"/>
<rect x="512.5" y="162.6" width="1.6" height="1.4" fill="#eef8fc" fill-opacity="0.38"/>
<rect x="439.6" y="131.6" width="3.1" height="1.4" fill="#eef8fc" fill-opacity="0.38"/>
<rect x="452.5" y="123.4" width="4.9" height="1.4" fill="#eef8fc" fill-opacity="0.66"/>
<rect x="416.3" y="169.7" width="1.4" height="1.4" fill="#eef8fc" fill-opacity="0.49"/>
<rect x="557.4" y="159.7" width="3.9" height="1.4" fill="#eef8fc" fill-opacity="0.52"/>
<rect x="431.4" y="150.3" width="1.4" height="1.4" fill="#eef8fc" fill-opacity="0.40"/>
<rect x="462.1" y="114.0" width="2.6" height="1.4" fill="#eef8fc" fill-opacity="0.70"/>
<rect x="511.0" y="142.0" width="3.5" height="1.4" fill="#eef8fc" fill-opacity="0.53"/>
<rect x="422.7" y="148.2" width="2.6" height="1.4" fill="#eef8fc" fill-opacity="0.67"/>
<rect x="545.3" y="137.8" width="3.3" height="1.4" fill="#eef8fc" fill-opacity="0.67"/>
<rect x="467.4" y="125.7" width="3.9" height="1.4" fill="#eef8fc" fill-opacity="0.74"/>
<rect x="523.8" y="154.0" width="4.4" height="1.4" fill="#eef8fc" fill-opacity="0.64"/>
<rect x="502.6" y="139.2" width="2.3" height="1.4" fill="#eef8fc" fill-opacity="0.61"/>
<rect x="415.7" y="137.2" width="4.1" height="1.4" fill="#eef8fc" fill-opacity="0.66"/>
<rect x="500.7" y="127.0" width="2.7" height="1.4" fill="#eef8fc" fill-opacity="0.53"/>
<rect x="499.5" y="136.6" width="3.7" height="1.4" fill="#eef8fc" fill-opacity="0.77"/>
<rect x="429.3" y="151.3" width="4.1" height="1.4" fill="#eef8fc" fill-opacity="0.49"/>
<rect x="478.4" y="170.5" width="1.2" height="1.4" fill="#eef8fc" fill-opacity="0.57"/>
<rect x="425.7" y="158.9" width="4.8" height="1.4" fill="#eef8fc" fill-opacity="0.56"/>
<rect x="416.2" y="146.5" width="3.2" height="1.4" fill="#eef8fc" fill-opacity="0.66"/>
<rect x="482.0" y="150.4" width="4.3" height="1.4" fill="#eef8fc" fill-opacity="0.56"/>
<rect x="465.7" y="168.9" width="1.8" height="1.4" fill="#eef8fc" fill-opacity="0.64"/>
<rect x="462.8" y="157.8" width="1.5" height="1.4" fill="#eef8fc" fill-opacity="0.79"/>
<rect x="456.9" y="115.4" width="2.1" height="1.4" fill="#eef8fc" fill-opacity="0.50"/>
<rect x="402.1" y="137.1" width="2.7" height="1.4" fill="#eef8fc" fill-opacity="0.65"/>
<rect x="456.3" y="127.9" width="1.9" height="1.4" fill="#eef8fc" fill-opacity="0.67"/>
<rect x="550.4" y="143.6" width="1.9" height="1.4" fill="#eef8fc" fill-opacity="0.70"/>
<rect x="462.7" y="124.7" width="1.5" height="1.4" fill="#eef8fc" fill-opacity="0.69"/>
<rect x="529.5" y="150.1" width="2.9" height="1.4" fill="#eef8fc" fill-opacity="0.58"/>
<rect x="436.2" y="169.8" width="2.4" height="1.4" fill="#eef8fc" fill-opacity="0.62"/>
<rect x="531.0" y="161.0" width="2.9" height="1.4" fill="#eef8fc" fill-opacity="0.45"/>
<rect x="487.7" y="119.5" width="4.3" height="1.4" fill="#eef8fc" fill-opacity="0.48"/>
<rect x="536.1" y="128.0" width="2.5" height="1.4" fill="#eef8fc" fill-opacity="0.43"/>
<rect x="468.2" y="123.2" width="1.0" height="1.4" fill="#eef8fc" fill-opacity="0.66"/>
<rect x="445.0" y="126.7" width="2.2" height="1.4" fill="#eef8fc" fill-opacity="0.54"/>
<rect x="468.6" y="150.2" width="3.6" height="1.4" fill="#eef8fc" fill-opacity="0.48"/>
<rect x="548.6" y="163.3" width="1.2" height="1.4" fill="#eef8fc" fill-opacity="0.71"/>
<rect x="544.9" y="159.0" width="1.6" height="1.4" fill="#eef8fc" fill-opacity="0.72"/>
<rect x="501.3" y="112.9" width="1.0" height="1.4" fill="#eef8fc" fill-opacity="0.78"/>
<rect x="505.0" y="127.0" width="1.4" height="1.4" fill="#eef8fc" fill-opacity="0.37"/>
<rect x="437.4" y="158.6" width="2.4" height="1.4" fill="#eef8fc" fill-opacity="0.38"/>
<rect x="544.7" y="159.5" width="1.7" height="1.4" fill="#eef8fc" fill-opacity="0.75"/>
<rect x="497.3" y="158.9" width="3.7" height="1.4" fill="#eef8fc" fill-opacity="0.75"/>
<rect x="526.1" y="162.3" width="1.8" height="1.4" fill="#eef8fc" fill-opacity="0.65"/>
<rect x="484.9" y="156.5" width="2.8" height="1.4" fill="#eef8fc" fill-opacity="0.74"/>
<rect x="488.8" y="127.9" width="1.9" height="1.4" fill="#eef8fc" fill-opacity="0.37"/>
<rect x="478.9" y="115.5" width="2.9" height="1.4" fill="#eef8fc" fill-opacity="0.37"/>
<rect x="478.6" y="141.9" width="3.2" height="1.4" fill="#eef8fc" fill-opacity="0.73"/>
<rect x="401.1" y="162.4" width="2.9" height="1.4" fill="#eef8fc" fill-opacity="0.58"/>
<rect x="506.4" y="162.4" width="2.5" height="1.4" fill="#eef8fc" fill-opacity="0.51"/>
<rect x="553.7" y="116.5" width="3.5" height="1.4" fill="#eef8fc" fill-opacity="0.62"/>
<rect x="404.6" y="148.6" width="3.7" height="1.4" fill="#eef8fc" fill-opacity="0.77"/>
<rect x="452.9" y="170.9" width="3.0" height="1.4" fill="#eef8fc" fill-opacity="0.54"/>
<rect x="543.6" y="114.0" width="3.9" height="1.4" fill="#eef8fc" fill-opacity="0.61"/>
<rect x="454.2" y="163.7" width="2.5" height="1.4" fill="#eef8fc" fill-opacity="0.54"/>
<rect x="484.1" y="158.2" width="1.8" height="1.4" fill="#eef8fc" fill-opacity="0.52"/>
<rect x="467.6" y="145.2" width="4.3" height="1.4" fill="#eef8fc" fill-opacity="0.45"/>
<rect x="532.4" y="136.2" width="3.0" height="1.4" fill="#eef8fc" fill-opacity="0.44"/>
<rect x="481.0" y="170.5" width="3.6" height="1.4" fill="#eef8fc" fill-opacity="0.70"/>
<rect x="452.9" y="131.0" width="2.2" height="1.4" fill="#eef8fc" fill-opacity="0.59"/>
<rect x="501.6" y="159.1" width="1.2" height="1.4" fill="#eef8fc" fill-opacity="0.66"/>
<rect x="541.7" y="144.7" width="1.2" height="1.4" fill="#eef8fc" fill-opacity="0.45"/>
<rect x="401.0" y="123.4" width="4.7" height="1.4" fill="#eef8fc" fill-opacity="0.60"/>
<rect x="505.3" y="159.3" width="4.6" height="1.4" fill="#eef8fc" fill-opacity="0.61"/>
<rect x="498.7" y="149.6" width="3.8" height="1.4" fill="#eef8fc" fill-opacity="0.60"/>
<rect x="509.0" y="124.8" width="3.7" height="1.4" fill="#eef8fc" fill-opacity="0.53"/>
<rect x="522.0" y="118.1" width="1.7" height="1.4" fill="#eef8fc" fill-opacity="0.32"/>
<rect x="523.9" y="166.8" width="3.6" height="1.4" fill="#eef8fc" fill-opacity="0.48"/>
<rect x="531.6" y="159.2" width="3.2" height="1.4" fill="#eef8fc" fill-opacity="0.43"/>
<rect x="448.3" y="137.3" width="2.3" height="1.4" fill="#eef8fc" fill-opacity="0.52"/>
<rect x="502.7" y="168.0" width="1.2" height="1.4" fill="#eef8fc" fill-opacity="0.58"/>
<rect x="406.3" y="119.1" width="4.2" height="1.4" fill="#eef8fc" fill-opacity="0.59"/>
<rect x="547.0" y="138.8" width="1.1" height="1.4" fill="#eef8fc" fill-opacity="0.49"/>
<rect x="494.7" y="168.3" width="4.9" height="1.4" fill="#eef8fc" fill-opacity="0.54"/>
<rect x="466.0" y="118.1" width="3.6" height="1.4" fill="#eef8fc" fill-opacity="0.41"/>
<rect x="424.3" y="112.9" width="1.0" height="1.4" fill="#eef8fc" fill-opacity="0.64"/>
<rect x="419.5" y="170.0" width="1.4" height="1.4" fill="#eef8fc" fill-opacity="0.73"/>
<rect x="420.6" y="113.1" width="3.9" height="1.4" fill="#eef8fc" fill-opacity="0.42"/>
<rect x="517.4" y="123.2" width="1.2" height="1.4" fill="#eef8fc" fill-opacity="0.69"/>
<rect x="514.2" y="163.3" width="3.9" height="1.4" fill="#eef8fc" fill-opacity="0.34"/>
<rect x="500.6" y="154.6" width="2.8" height="1.4" fill="#eef8fc" fill-opacity="0.77"/>
<rect x="440.6" y="169.9" width="3.9" height="1.4" fill="#eef8fc" fill-opacity="0.31"/>
<rect x="402.4" y="151.0" width="4.3" height="1.4" fill="#eef8fc" fill-opacity="0.34"/>
<rect x="449.8" y="155.8" width="1.7" height="1.4" fill="#eef8fc" fill-opacity="0.73"/>
<rect x="477.8" y="115.6" width="2.5" height="1.4" fill="#eef8fc" fill-opacity="0.59"/>
<rect x="470.2" y="152.6" width="1.6" height="1.4" fill="#eef8fc" fill-opacity="0.70"/>
<rect x="458.1" y="150.7" width="3.5" height="1.4" fill="#eef8fc" fill-opacity="0.51"/>
<rect x="461.7" y="159.2" width="4.8" height="1.4" fill="#eef8fc" fill-opacity="0.69"/>
<rect x="490.7" y="129.5" width="1.2" height="1.4" fill="#eef8fc" fill-opacity="0.79"/>
<rect x="512.5" y="161.6" width="2.3" height="1.4" fill="#eef8fc" fill-opacity="0.60"/>
<rect x="556.4" y="161.9" width="3.4" height="1.4" fill="#eef8fc" fill-opacity="0.45"/>
<rect x="468.6" y="165.3" width="2.5" height="1.4" fill="#eef8fc" fill-opacity="0.64"/>
<rect x="496.3" y="165.8" width="4.2" height="1.4" fill="#eef8fc" fill-opacity="0.44"/>
<rect x="400.3" y="127.8" width="2.7" height="1.4" fill="#eef8fc" fill-opacity="0.59"/>
<rect x="530.6" y="165.2" width="1.2" height="1.4" fill="#eef8fc" fill-opacity="0.72"/>
<rect x="529.9" y="164.0" width="3.3" height="1.4" fill="#eef8fc" fill-opacity="0.44"/>
<rect x="536.2" y="160.4" width="3.7" height="1.4" fill="#eef8fc" fill-opacity="0.76"/>
<rect x="455.5" y="117.1" width="3.2" height="1.4" fill="#eef8fc" fill-opacity="0.70"/>
<rect x="432.1" y="157.0" width="4.7" height="1.4" fill="#eef8fc" fill-opacity="0.42"/>
<rect x="497.1" y="152.7" width="2.9" height="1.4" fill="#eef8fc" fill-opacity="0.40"/>
<rect x="440.8" y="157.1" width="4.2" height="1.4" fill="#eef8fc" fill-opacity="0.53"/>
<rect x="414.0" y="160.4" width="4.1" height="1.4" fill="#eef8fc" fill-opacity="0.42"/>
<rect x="492.7" y="165.8" width="4.5" height="1.4" fill="#eef8fc" fill-opacity="0.56"/>
<rect x="476.3" y="147.4" width="1.8" height="1.4" fill="#eef8fc" fill-opacity="0.40"/>
<rect x="428.9" y="154.1" width="2.5" height="1.4" fill="#eef8fc" fill-opacity="0.58"/>
<polygon points="348,99 389,101 389,115 348,113" fill="#f4fbfd" fill-opacity="0.9"/>
<rect x="357" y="103" width="4" height="10" fill="#4f7f97"/><rect x="372" y="104" width="4" height="10" fill="#4f7f97"/>
<polygon points="272.9,138 348,149.8 345.5,163.3 269.5,152.3" fill="#2f5161"/>
<text x="287" y="153" font-family="Liberation Serif" font-size="8" font-style="italic" fill="#c9e6ef" transform="rotate(9 300 154)">Year 2016</text>
<polygon points="269.5,152.3 345.5,163.3 327.8,200 252.7,218" fill="#9fd2e4"/>
<line x1="267.0" y1="165.5" x2="343.0" y2="177.0" stroke="#2f5566" stroke-width="1"/>
<line x1="263.0" y1="180.0" x2="338.5" y2="191.5" stroke="#2f5566" stroke-width="1"/>
<line x1="259.0" y1="194.5" x2="334.0" y2="206.0" stroke="#2f5566" stroke-width="1"/>
<line x1="255.0" y1="209.0" x2="329.5" y2="220.5" stroke="#2f5566" stroke-width="1"/>
<line x1="322" y1="160" x2="305" y2="215" stroke="#2f5566" stroke-width="0.8"/>
<text x="299" y="168" font-family="Liberation Sans" font-size="8" fill="#2f5566" text-anchor="middle" transform="rotate(9 299 168)">10</text>
<text x="295.7" y="182" font-family="Liberation Sans" font-size="8" fill="#2f5566" text-anchor="middle" transform="rotate(9 295.7 182)">25</text>
<text x="291.5" y="197" font-family="Liberation Sans" font-size="8" fill="#2f5566" text-anchor="middle" transform="rotate(9 291.5 197)">34</text>
<polygon points="100.0,270 104.0,270 116.0,190 112.0,190" fill="#3b8cb8"/>
<polygon points="109.7,270 113.7,270 126.0,188 122.0,188" fill="#3b8cb8"/>
<polygon points="120.2,270 124.2,270 135.0,198 131.0,198" fill="#3b8cb8"/>
<polygon points="131.8,270 135.8,270 148.0,189 144.0,189" fill="#3b8cb8"/>
<polygon points="145.8,270 149.8,270 162.0,189 158.0,189" fill="#3b8cb8"/>
<polygon points="159.1,270 163.1,270 177.0,177.5 173.0,177.5" fill="#3b8cb8"/>
<polygon points="177.9,270 181.9,270 201.0,143 197.0,143" fill="#3b8cb8"/>
<polygon points="186.7,270 190.7,270 207.0,161 203.0,161" fill="#3b8cb8"/>
<polygon points="200.1,270 204.1,270 219.6,166.5 215.6,166.5" fill="#3b8cb8"/>
<polygon points="62,151 190,290 150,340 -10,340 -10,213" fill="#9ebfc6"/>
<polygon points="62,160 180,290 140,340 -10,340 -10,222" fill="#7c9fa8"/>
<polygon points="62,166 170,284 160,296 62,190 -10,262 -10,236" fill="#6a909a"/>
<polygon points="75,176 163,272 150,286 64,192" fill="#4f7884"/>
<ellipse cx="52" cy="222" rx="32" ry="30" fill="none" stroke="#4d7580" stroke-width="5" stroke-opacity="0.8"/>
<ellipse cx="52" cy="222" rx="20" ry="18" fill="#8fb1b9" fill-opacity="0.9"/>
<ellipse cx="46" cy="218" rx="9" ry="10" fill="#5f8792" fill-opacity="0.8"/>
<path d="M20,250 q20,-10 40,5 q15,10 30,0" fill="none" stroke="#456d78" stroke-width="3" stroke-opacity="0.7"/>
<circle cx="90" cy="271" r="36" fill="#dfe4e5" stroke="#b9c3c6" stroke-width="1.6"/>
<path d="M70,256 q18,-8 36,0 M74,264 h20 M70,272 q8,6 14,0" fill="none" stroke="#a3afb3" stroke-width="1.4"/>
<circle cx="107.5" cy="287" r="27" fill="#d6dbdd" stroke="#7d8e94" stroke-width="2.4"/>
<circle cx="107.5" cy="287" r="22" fill="none" stroke="#a3b0b4" stroke-width="1.2"/>
<path d="M98,278 q6,-6 14,-1 q4,6 -2,12 q-6,4 -10,-2" fill="none" stroke="#8d9da2" stroke-width="1.6"/>
</g></g>
<circle cx="491" cy="680" r="516" fill="#fff"/>
<linearGradient id="shs" x1="0" y1="0" x2="1" y2="0"><stop offset="0" stop-color="#000" stop-opacity="0"/><stop offset="1" stop-color="#000" stop-opacity="0.07"/></linearGradient>
<polygon points="476,203 490.5,219 490.5,476 476,494" fill="url(#shs)"/>
<path d="M491.00,219.00 A461.0,461.0 0 0 0 65.66,502.22 L95.18,514.56 A429.0,429.0 0 0 1 491.00,251.00 Z" fill="#48a4c9"/>
<path d="M65.66,502.22 A461.0,461.0 0 0 0 31.17,647.14 L63.09,649.42 A429.0,429.0 0 0 1 95.18,514.56 Z" fill="#92c9de"/>
<path d="M491.00,274.50 A405.5,405.5 0 0 0 123.40,508.84 L152.40,522.34 A373.5,373.5 0 0 1 491.00,306.50 Z" fill="#48a4c9"/>
<path d="M123.40,508.84 A405.5,405.5 0 0 0 88.45,631.18 L120.22,635.03 A373.5,373.5 0 0 1 152.40,522.34 Z" fill="#92c9de"/>
<path d="M491.00,330.00 A350.0,350.0 0 0 0 164.60,553.65 L194.44,565.20 A318.0,318.0 0 0 1 491.00,362.00 Z" fill="#48a4c9"/>
<path d="M164.60,553.65 A350.0,350.0 0 0 0 141.32,665.00 L173.29,666.37 A318.0,318.0 0 0 1 194.44,565.20 Z" fill="#92c9de"/>
<path d="M491.00,385.50 A294.5,294.5 0 0 0 213.44,581.55 L243.60,592.25 A262.5,262.5 0 0 1 491.00,417.50 Z" fill="#48a4c9"/>
<path d="M213.44,581.55 A294.5,294.5 0 0 0 196.50,679.11 L228.50,679.21 A262.5,262.5 0 0 1 243.60,592.25 Z" fill="#92c9de"/>
<path d="M491.00,441.00 A239.0,239.0 0 0 0 266.52,597.97 L296.57,608.95 A207.0,207.0 0 0 1 491.00,473.00 Z" fill="#48a4c9"/>
<path d="M266.52,597.97 A239.0,239.0 0 0 0 252.03,676.11 L284.03,676.63 A207.0,207.0 0 0 1 296.57,608.95 Z" fill="#92c9de"/>
</svg>
<div class="pl" id="pl0" style="left:68px;top:479.5px">61.9</div>
<div class="pl" id="pl1" style="left:125.5px;top:490.5px">59.8</div>
<div class="pl" id="pl2" style="left:165.5px;top:536px">63.3</div>
<div class="pl" id="pl3" style="left:214.5px;top:563.5px">64.8</div>
<div class="pl" id="pl4" style="left:266.5px;top:581px">64.3</div>
<div class="pl" id="pl5" style="left:26.5px;top:624px">17.1</div>
<div class="pl" id="pl6" style="left:85px;top:609px">16.6</div>
<div class="pl" id="pl7" style="left:138px;top:643px">17.2</div>
<div class="pl" id="pl8" style="left:192.5px;top:656.5px">17.8</div>
<div class="pl" id="pl9" style="left:248px;top:653px">17.6</div>
<div class="a title ar" id="title">الديون والأصول وحقوق المساهمين</div>
<div class="a subbox"></div>
<div class="a subt ar" id="subt">لدى الشركات المدرجة</div>
<div class="a q ar" id="q0" style="top:214.0px">الربع الثالث</div>
<div class="a yr" id="y0" style="top:233.4px">2018</div>
<div class="a brR" style="top:219.7px"></div><div class="a tick" style="left:583px;top:236.7px"></div>
<div class="a debt" id="d0" style="top:229.8px">683,261</div>
<div class="a tick" style="left:665px;top:236.7px"></div><div class="a brL" style="top:219.7px"></div>
<div class="a dbar" style="top:219.7px;width:60.4px"></div>
<div class="a eqn" id="e0" style="top:220.7px;left:746.4px">1,104,690</div>
<div class="a gbar" style="top:238.2px;width:219.0px"><span id="g0">4,007,377</span></div>
<div class="a q ar" id="q1" style="top:270.6px">الربع الرابع</div>
<div class="a yr" id="y1" style="top:290.1px">2018</div>
<div class="a brR" style="top:275.2px"></div><div class="a tick" style="left:583px;top:292.2px"></div>
<div class="a debt" id="d1" style="top:285.6px">660,269</div>
<div class="a tick" style="left:665px;top:292.2px"></div><div class="a brL" style="top:275.2px"></div>
<div class="a dbar" style="top:275.2px;width:60.4px"></div>
<div class="a eqn" id="e1" style="top:276.2px;left:746.4px">1,104,870</div>
<div class="a gbar" style="top:293.7px;width:217.9px"><span id="g1">3,986,941</span></div>
<div class="a q ar" id="q2" style="top:327.2px">الربع الأول</div>
<div class="a yr" id="y2" style="top:346.8px">2019</div>
<div class="a brR" style="top:330.7px"></div><div class="a tick" style="left:583px;top:347.7px"></div>
<div class="a debt" id="d2" style="top:341.4px">699,635</div>
<div class="a tick" style="left:665px;top:347.7px"></div><div class="a brL" style="top:330.7px"></div>
<div class="a dbar" style="top:330.7px;width:60.4px"></div>
<div class="a eqn" id="e2" style="top:331.7px;left:746.4px">1,104,558</div>
<div class="a gbar" style="top:349.2px;width:221.6px"><span id="g2">4,055,921</span></div>
<div class="a q ar" id="q3" style="top:383.8px">الربع الثاني</div>
<div class="a yr" id="y3" style="top:403.5px">2019</div>
<div class="a brR" style="top:386.2px"></div><div class="a tick" style="left:583px;top:403.2px"></div>
<div class="a debt" id="d3" style="top:397.2px">730,084</div>
<div class="a tick" style="left:665px;top:403.2px"></div><div class="a brL" style="top:386.2px"></div>
<div class="a dbar" style="top:386.2px;width:61.5px"></div>
<div class="a eqn" id="e3" style="top:387.2px;left:747.5px">1,126,363</div>
<div class="a gbar" style="top:404.7px;width:224.4px"><span id="g3">4,105,723</span></div>
<div class="a q ar" id="q4" style="top:440.4px">الربع الثالث</div>
<div class="a yr" id="y4" style="top:460.2px">2019</div>
<div class="a brR" style="top:441.7px"></div><div class="a tick" style="left:583px;top:458.7px"></div>
<div class="a debt" id="d4" style="top:453.0px">727,017</div>
<div class="a tick" style="left:665px;top:458.7px"></div><div class="a brL" style="top:441.7px"></div>
<div class="a dbar" style="top:441.7px;width:61.8px"></div>
<div class="a eqn" id="e4" style="top:442.7px;left:747.8px">1,130,903</div>
<div class="a gbar" style="top:460.2px;width:225.5px"><span id="g4">4,126,243</span></div>
<div class="a tri"></div>
<div class="a dlab ar" id="dlab">الدين</div>
<div class="a sq" style="left:868px;top:555px;background:#1d5a7e"></div>
<div class="a lg ar" id="lg1" style="right:85px;top:549px">حقوق المساهمين</div>
<div class="a sq" style="left:868px;top:581.5px;background:#b7b7b7"></div>
<div class="a lg ar" id="lg2" style="right:85px;top:576px">الأصول</div>
<div class="a vline"></div>
<div class="a lg ar" id="mr" style="right:227px;top:574px;color:#8a8a8a;font-size:16px;font-weight:600;transform:scaleX(0.915)">مليون ريال</div>
<svg class="a" style="left:600px;top:552px" width="50" height="52" viewBox="600 552 50 52">
<g fill="none" stroke="#9a9a9a" stroke-width="1.6" stroke-linejoin="round">
<polygon points="617.5,571 622,557.5 631.5,560.5 628,571"/>
<polygon points="625,571 629,559.5 641,563.5 638.5,571"/>
</g>
<path d="M624,565 l2,-4 M628,566 l2,-5 M633,566 l1.5,-3" stroke="#9a9a9a" stroke-width="1.3"/>
<rect x="606.8" y="571.5" width="36.6" height="28" rx="3.5" fill="#9a9a9a"/>
<path d="M646,581 H638.6 A5,5 0 0 0 638.6,591 H646 Z" fill="#9a9a9a" stroke="#fff" stroke-width="1.5"/>
</svg>
<div class="a sq" style="left:509px;top:557px;background:#4aa3c8"></div>
<div class="a lg ar" id="ll1" style="right:444px;top:550px">الدين لحقوق المساهمين</div>
<div class="a sq" style="left:509px;top:583.5px;background:#9fd0e2"></div>
<div class="a lg ar" id="ll2" style="right:444px;top:577px">الدين للأصول</div>
<div class="a pct" id="pct">%</div>
<div class="a foot"></div>
<div class="a logo ar" id="logo">الاقتصادية</div>
<div class="a fl" id="fl">ALEQTISADIAH</div>
<div class="a fr" id="fr">WWW.ALEQT.COM</div>
<svg class="a" style="left:40px;top:712px" width="80" height="30" viewBox="40 712 80 30">
<g fill="none" stroke="#d3e7f1" stroke-width="1.1">
<circle cx="57.7" cy="726.3" r="7.4"/><circle cx="77.2" cy="726.3" r="7.4"/><circle cx="97.5" cy="726.3" r="7.4"/>
<rect x="54.2" y="722.8" width="7" height="7" rx="1.8" stroke-width="0.9"/><circle cx="57.7" cy="726.3" r="1.6" stroke-width="0.9"/>
</g>
<circle cx="59.8" cy="724.3" r="0.5" fill="#d3e7f1"/>
<path d="M78.6,722.4 h-1.1 c-1,0 -1.6,0.6 -1.6,1.6 v1.2 h-1.1 v1.5 h1.1 v4.1 h1.6 v-4.1 h1.2 l0.25,-1.5 h-1.45 v-1 c0,-0.3 0.2,-0.45 0.5,-0.45 h0.9 z" fill="#fff"/>
<path transform="translate(93.4,722.3) scale(0.34)" fill="#fff" d="M23.953 4.57a10 10 0 01-2.825.775 4.958 4.958 0 002.163-2.723c-.951.555-2.005.959-3.127 1.184a4.92 4.92 0 00-8.384 4.482C7.69 8.095 4.067 6.13 1.64 3.162a4.822 4.822 0 00-.666 2.475c0 1.71.87 3.213 2.188 4.096a4.904 4.904 0 01-2.228-.616v.06a4.923 4.923 0 003.946 4.827 4.996 4.996 0 01-2.212.085 4.936 4.936 0 004.604 3.417 9.867 9.867 0 01-6.102 2.105c-.39 0-.779-.023-1.17-.067a13.995 13.995 0 007.557 2.209c9.053 0 13.998-7.496 13.998-13.985 0-.21 0-.42-.015-.63A9.935 9.935 0 0024 4.59z"/>
</svg>
<svg class="a" style="left:860px;top:716px" width="24" height="22" viewBox="860 716 24 22">
<circle cx="871.7" cy="726.3" r="7.4" fill="none" stroke="#d3e7f1" stroke-width="1.2"/>
<circle cx="871.7" cy="726.3" r="4.2" fill="#dbeaf2"/>
<path d="M869.6,724.6 l4.2,2.6 M870.2,728.3 l2.9,-3.6 M869.8,726.4 h3.6" stroke="#1b5a7b" stroke-width="0.8"/>
</svg>
<script>
(function(){
var T={title:397.6,subt:229.7,q0:62.16,q1:53.64,q2:54.41,q3:57.28,q4:62.16,dlab:28.73,lg1:98.68,lg2:40.22,mr:65.85,ll1:135.37,ll2:73.32,logo:89.42};
function fit(){
 for(var id in T){
  var e=document.getElementById(id); if(!e) continue;
  e.style.transform='none';
  var r=document.createRange(); r.selectNodeContents(e);
  var w=r.getBoundingClientRect().width;
  if(w>0) e.style.transform='scaleX('+(T[id]/w).toFixed(4)+')';
 }
}
fit();
if(document.fonts&&document.fonts.ready) document.fonts.ready.then(fit);
window.addEventListener('load',fit);
})();
</script>
</body></html>
